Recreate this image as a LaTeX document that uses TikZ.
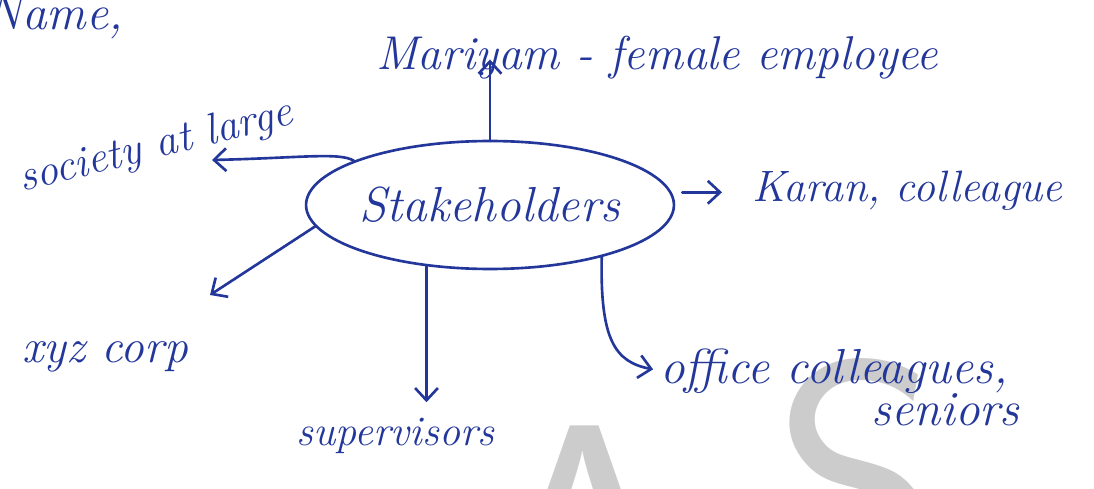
\documentclass[tikz,border=0pt]{standalone}
\usetikzlibrary{shapes.geometric,positioning,arrows.meta}
\definecolor{inkblue}{RGB}{35,55,155}
\begin{document}
\begin{tikzpicture}[x=0.02cm,y=-0.02cm,line cap=round,>={Straight Barb[length=7pt,width=13pt]}]
        % Styles
        \tikzstyle{ink}=[draw=inkblue,line width=1.5pt]
        \tikzstyle{hand text}=[text=inkblue,inner sep=0pt,font=\fontsize{28}{32}\selectfont\itshape]
        \tikzstyle{narrow hand}=[hand text,font=\fontsize{25}{30}\selectfont\itshape]
        \tikzstyle{mark text}=[text=black!20,inner sep=0pt,font=\fontsize{190}{190}\selectfont\sffamily]
        %frame
        \useasboundingbox (0,0) rectangle (1094,489);
        %watermark
        \begin{scope}
            \clip (0,0) rectangle (1094,489);
            \node[mark text,anchor=north] (markA) at (585,425) {A};
            \node[mark text,anchor=north] (markS) at (860,358) {S};
        \end{scope}
        %centre
        \node[ellipse,ink,hand text,minimum width=7.1cm,minimum height=2.56cm] (stake) at (490,205) {Stakeholders};
        %labels
        \node[hand text,anchor=base west] (name) at (-14,30) {Name,};
        \node[hand text,font=\fontsize{27}{32}\selectfont\itshape,anchor=base west] (mariyam) at (376,70) {Mariyam - female employee};
        \node[narrow hand,anchor=base west,rotate=14] (society) at (22,192) {society at large};
        \node[narrow hand,anchor=base west] (karan) at (752,202) {Karan, colleague};
        \node[hand text,font=\fontsize{27}{32}\selectfont\itshape,anchor=base west] (xyz) at (22,362) {xyz corp};
        \node[narrow hand,font=\fontsize{24}{28}\selectfont\itshape,anchor=base west] (supervisors) at (296,445) {supervisors};
        \node[hand text,anchor=base west] (office) at (660,383) {office colleagues,};
        \node[hand text,anchor=base east] (seniors) at (1020,425) {seniors};
        %free ends
        \coordinate (society tip) at (212,160);
        \coordinate (xyz tip) at (210,295);
        %arrows
        \draw[ink,->,shorten >=-6pt] (stake.north) -- (stake.north |- mariyam.base);
        \draw[ink,->,shorten <=6pt,shorten >=0.6cm] (stake.4) -- (stake.4 -| karan.base west);
        \draw[ink,->] (stake.162) .. controls (340,152) and (300,158) .. (society tip);
        \draw[ink,->] (stake.187) -- (xyz tip);
        \draw[ink,->,shorten >=0.3cm] (stake.224) -- (stake.224 |- supervisors.north);
        \draw[ink,->,shorten >=4pt] (stake.335) .. controls (600,340) and (615,362) .. (office.west);
\end{tikzpicture}
\end{document}
